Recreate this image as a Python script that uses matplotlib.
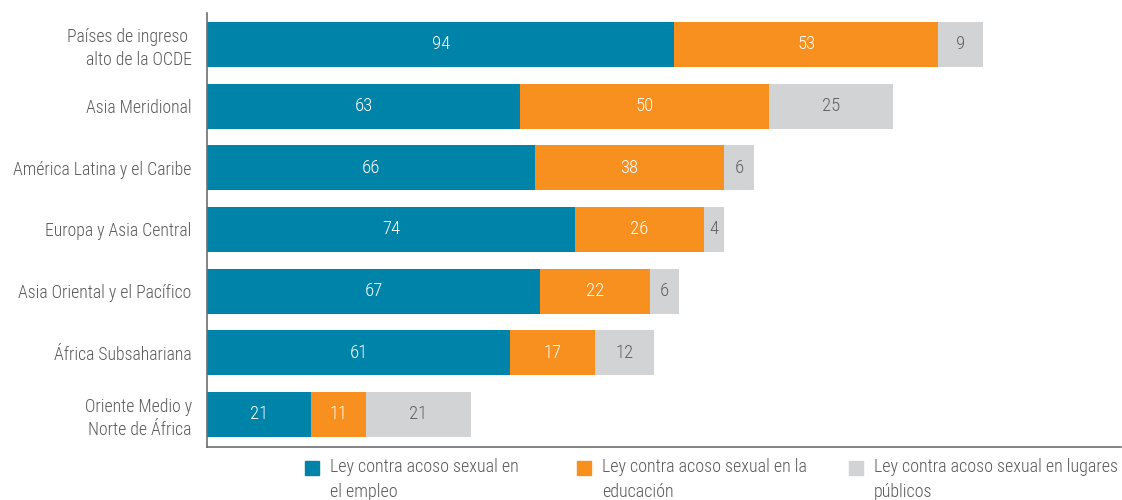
import matplotlib
matplotlib.use("Agg")
import matplotlib.pyplot as plt
from matplotlib.patches import Rectangle
import numpy as np

plt.rcParams['font.family'] = ['Roboto Condensed', 'IBM Plex Sans Condensed',
                               'Liberation Sans Narrow', 'DejaVu Sans']

# ---------------- data ----------------
regions = [
    "Países de ingreso \nalto de la OCDE",
    "Asia Meridional",
    "América Latina y el Caribe",
    "Europa y Asia Central",
    "Asia Oriental y el Pacífico",
    "África Subsahariana",
    "Oriente Medio y\nNorte de África",
]
empleo = [94, 63, 66, 74, 67, 61, 21]
educacion = [53, 50, 38, 26, 22, 17, 11]
publicos = [9, 25, 6, 4, 6, 12, 21]

series_names = [
    "Ley contra acoso sexual en\nel empleo",
    "Ley contra acoso sexual en la\neducación",
    "Ley contra acoso sexual en lugares\npúblicos",
]
colors = ["#0083A9", "#F7901E", "#D1D3D4"]
text_colors = ["white", "white", "#5F6062"]
label_color = "#58595B"
# --------------------------------------

fig = plt.figure(figsize=(11.22, 5.0), dpi=100)
ax = fig.add_axes([0.1845, 0.106, 0.8145, 0.868])

y = np.arange(len(regions))
left = np.zeros(len(regions))
for vals, col, tcol in zip([empleo, educacion, publicos], colors, text_colors):
    vals = np.array(vals, dtype=float)
    ax.barh(y, vals, left=left, height=0.73, color=col, edgecolor="none")
    for yi, l, v in zip(y, left, vals):
        ax.text(l + v / 2, yi, f"{int(v)}", ha="center", va="center",
                color=tcol, fontsize=13.5, fontweight="light")
    left += vals

ax.set_yticks(y)
ax.set_yticklabels(regions, fontsize=12.8, color=label_color, linespacing=1.35,
                   fontweight="light")
ax.set_ylim(len(regions) - 1 + 0.53, -0.51)
ax.set_xlim(0, 183.8)
ax.set_xticks([])
ax.tick_params(axis="y", length=0, pad=11)

for s in ["top", "right"]:
    ax.spines[s].set_visible(False)
for s in ["left", "bottom"]:
    ax.spines[s].set_color("#6D6E71")
    ax.spines[s].set_linewidth(1.2)

# legend drawn by hand (square aligned with first line)
leg_x = [305, 577, 849]
W, H = 1122.0, 500.0
for lx, name, col in zip(leg_x, series_names, colors):
    fig.patches.append(Rectangle((lx / W, 1 - 475 / H), 14 / W, 14 / H,
                                 transform=fig.transFigure, color=col,
                                 figure=fig))
    fig.text((lx + 25) / W, 1 - 458 / H, name, ha="left", va="top",
             fontsize=13.0, color=label_color, linespacing=1.5,
             fontweight="light")

fig.savefig("out.png", dpi=100)
